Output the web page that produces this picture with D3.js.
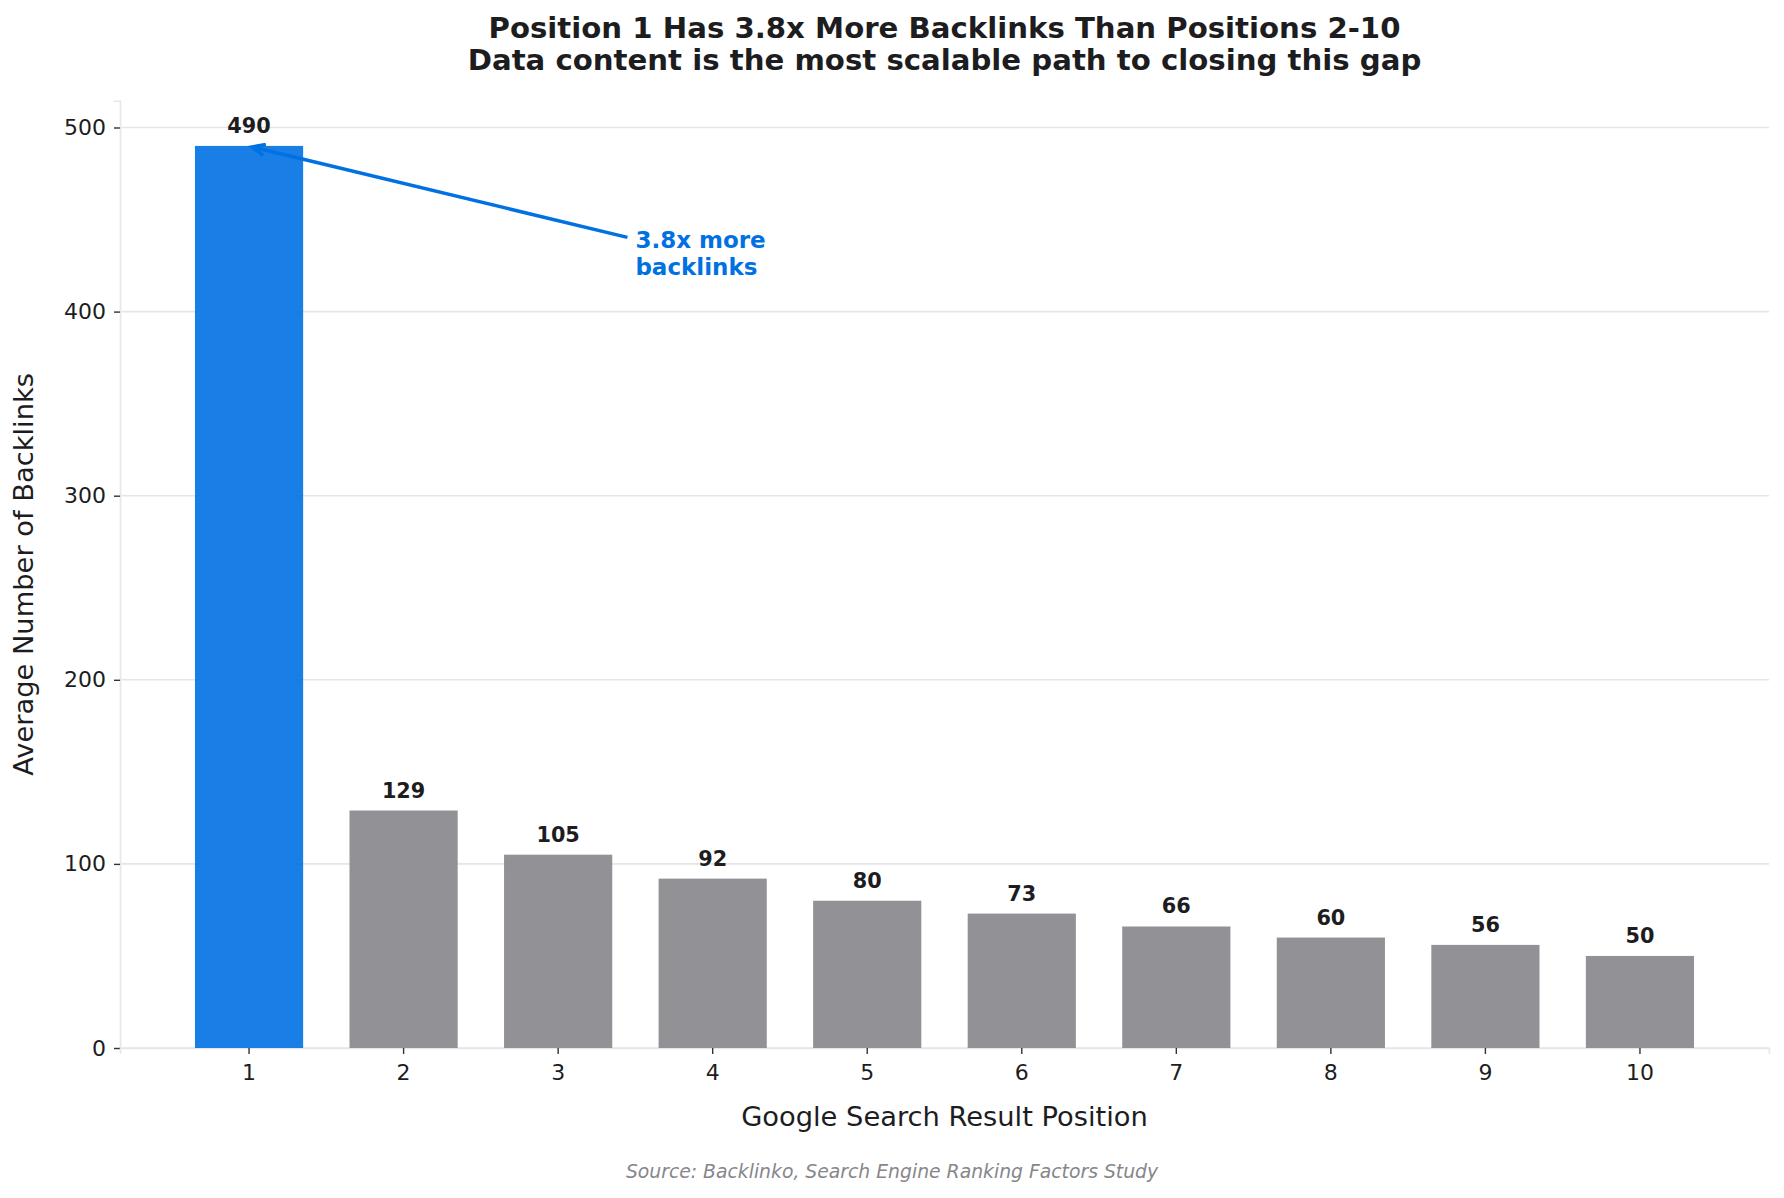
<!DOCTYPE html>
<html>
<head>
<meta charset="utf-8">
<script src="https://cdn.jsdelivr.net/npm/d3@7"></script>
<style>
  html, body { margin: 0; padding: 0; background: #fff; }
  text { font-family: "DejaVu Sans", sans-serif; }
</style>
</head>
<body>
<div id="chart"></div>
<script>
// chart data
const positions = ["1", "2", "3", "4", "5", "6", "7", "8", "9", "10"];
const backlinks = [490, 129, 105, 92, 80, 73, 66, 60, 56, 50];
const yTicks = [0, 100, 200, 300, 400, 500];
const titleLines = [
  "Position 1 Has 3.8x More Backlinks Than Positions 2-10",
  "Data content is the most scalable path to closing this gap"
];
const annotationLines = ["3.8x more", "backlinks"];
const annotationAt = { position: 3.5, value: 430 };

const width = 1784, height = 1198;
const margin = { top: 100.8, right: 15, bottom: 150, left: 120 };

const blue = "#0071e3", gray = "#86868b", dark = "#1d1d1f", grid = "#e5e5ea";

const svg = d3.select("#chart").append("svg")
  .attr("width", width)
  .attr("height", height);

svg.append("rect").attr("width", width).attr("height", height).attr("fill", "#fff");

const x = d3.scaleBand()
  .domain(positions)
  .range([margin.left, width - margin.right])
  .paddingInner(0.3)
  .paddingOuter(0.485);

const y = d3.scaleLinear()
  .domain([0, d3.max(backlinks) * 1.05])
  .range([height - margin.bottom, margin.top]);

// continuous position helper for the annotation (1-based positions)
const xPos = (p) => x(positions[0]) + x.bandwidth() / 2 + (p - 1) * x.step();

// gridlines
svg.append("g").attr("class", "grid")
  .selectAll("line")
  .data(yTicks)
  .join("line")
  .attr("x1", margin.left)
  .attr("x2", width - margin.right)
  .attr("y1", d => y(d))
  .attr("y2", d => y(d))
  .attr("stroke", grid)
  .attr("stroke-width", 1.6);

// y axis
const yAxis = svg.append("g")
  .attr("transform", `translate(${margin.left},0)`)
  .call(d3.axisLeft(y).tickValues(yTicks).tickSize(6).tickPadding(8));
yAxis.select(".domain").attr("stroke", grid).attr("stroke-width", 1.6);
yAxis.selectAll(".tick line").attr("stroke", "#333").attr("stroke-width", 1.4);
yAxis.selectAll(".tick text")
  .attr("fill", dark)
  .style("font-size", "22px")
  .style("font-family", "DejaVu Sans");

// x axis
const xAxis = svg.append("g")
  .attr("transform", `translate(0,${height - margin.bottom})`)
  .call(d3.axisBottom(x).tickSize(6).tickPadding(10));
xAxis.select(".domain").attr("stroke", grid).attr("stroke-width", 1.6);
xAxis.selectAll(".tick line").attr("stroke", "#333").attr("stroke-width", 1.4);
xAxis.selectAll(".tick text")
  .attr("fill", dark)
  .style("font-size", "22px")
  .style("font-family", "DejaVu Sans");

// bars
svg.append("g").attr("class", "bars")
  .selectAll("rect")
  .data(backlinks)
  .join("rect")
  .attr("x", (d, i) => x(positions[i]))
  .attr("y", d => y(d))
  .attr("width", x.bandwidth())
  .attr("height", d => y(0) - y(d))
  .attr("fill", (d, i) => i === 0 ? blue : gray)
  .attr("fill-opacity", 0.9);

// value labels
svg.append("g").attr("class", "values")
  .selectAll("text")
  .data(backlinks)
  .join("text")
  .attr("x", (d, i) => x(positions[i]) + x.bandwidth() / 2)
  .attr("y", d => y(d) - 13)
  .attr("text-anchor", "middle")
  .attr("fill", dark)
  .style("font-size", "20.8px")
  .style("font-weight", "bold")
  .text(d => d);

// annotation arrow + text
const tipX = xPos(1) + 3, tipY = y(backlinks[0]) + 1;
const tx = xPos(annotationAt.position), ty = y(annotationAt.value);
const startX = tx - 8, startY = ty - 19;
const ang = Math.atan2(tipY - startY, tipX - startX);
svg.append("line")
  .attr("x1", startX).attr("y1", startY)
  .attr("x2", tipX).attr("y2", tipY)
  .attr("stroke", blue).attr("stroke-width", 3.5);
const headLen = 14, headAng = 0.42;
svg.append("path")
  .attr("d", `M${tipX - headLen * Math.cos(ang - headAng)},${tipY - headLen * Math.sin(ang - headAng)}` +
             `L${tipX},${tipY}` +
             `L${tipX - headLen * Math.cos(ang + headAng)},${tipY - headLen * Math.sin(ang + headAng)}`)
  .attr("fill", "none")
  .attr("stroke", blue).attr("stroke-width", 3.5)
  .attr("stroke-linejoin", "miter");

svg.append("g")
  .selectAll("text")
  .data(annotationLines)
  .join("text")
  .attr("x", tx)
  .attr("y", (d, i) => ty - 8 + i * 27)
  .attr("fill", blue)
  .style("font-size", "23px")
  .style("font-weight", "bold")
  .text(d => d);

// title
svg.append("g")
  .selectAll("text")
  .data(titleLines)
  .join("text")
  .attr("x", (margin.left + width - margin.right) / 2)
  .attr("y", (d, i) => 38 + i * 31.5)
  .attr("text-anchor", "middle")
  .attr("fill", dark)
  .style("font-size", "29.2px")
  .style("font-weight", "bold")
  .text(d => d);

// axis labels
svg.append("text")
  .attr("x", (margin.left + width - margin.right) / 2)
  .attr("y", 1126)
  .attr("text-anchor", "middle")
  .attr("fill", dark)
  .style("font-size", "27.3px")
  .text("Google Search Result Position");

svg.append("text")
  .attr("transform", `translate(33,${(y.range()[0] + y.range()[1]) / 2}) rotate(-90)`)
  .attr("text-anchor", "middle")
  .attr("fill", dark)
  .style("font-size", "27.3px")
  .text("Average Number of Backlinks");

// source
svg.append("text")
  .attr("x", width / 2)
  .attr("y", 1178)
  .attr("text-anchor", "middle")
  .attr("fill", gray)
  .style("font-size", "18.8px")
  .style("font-style", "italic")
  .text("Source: Backlinko, Search Engine Ranking Factors Study");
</script>
</body>
</html>
